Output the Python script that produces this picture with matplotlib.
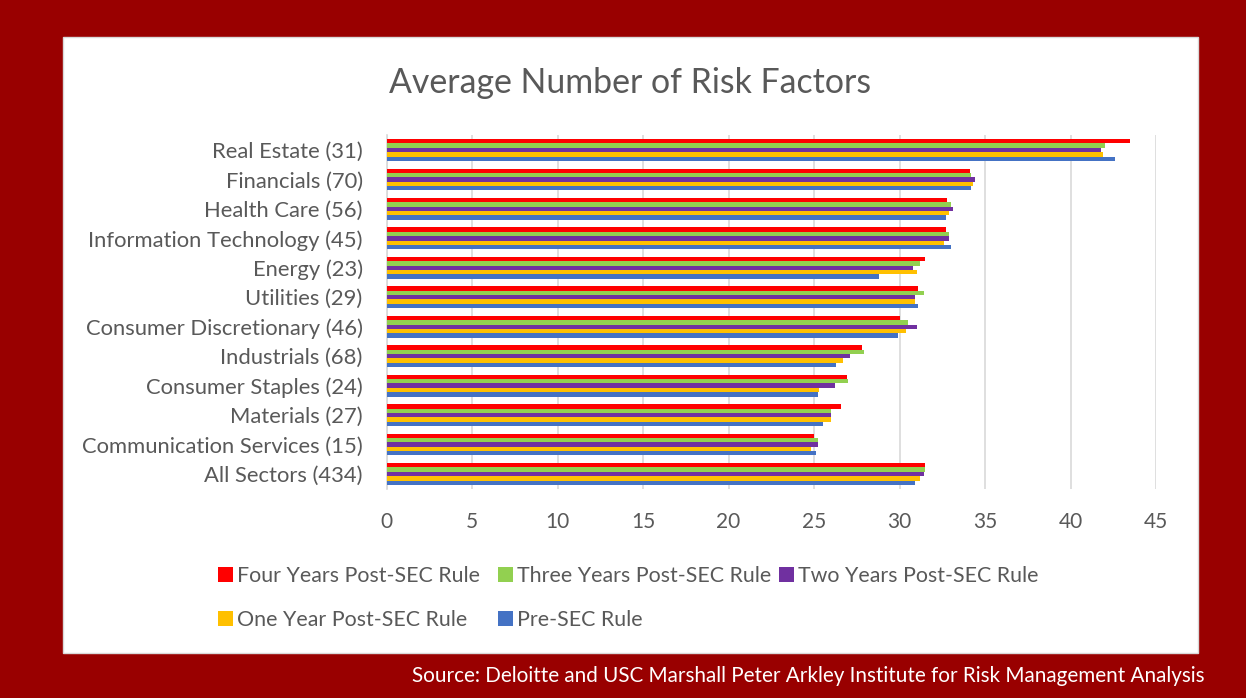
import matplotlib
matplotlib.use("Agg")
import matplotlib.pyplot as plt
from matplotlib.patches import Rectangle, Patch
import numpy as np

plt.rcParams['font.family'] = ['Lato', 'DejaVu Sans']

categories = ["Real Estate (31)", "Financials (70)", "Health Care (56)",
              "Information Technology (45)", "Energy (23)", "Utilities (29)",
              "Consumer Discretionary (46)", "Industrials (68)",
              "Consumer Staples (24)", "Materials (27)",
              "Communication Services (15)", "All Sectors (434)"]

series_names = ["Four Years Post-SEC Rule", "Three Years Post-SEC Rule",
                "Two Years Post-SEC Rule", "One Year Post-SEC Rule", "Pre-SEC Rule"]

four_years = [43.5, 34.1, 32.8, 32.7, 31.5, 31.1, 30.0, 27.8, 26.9, 26.6, 25.0, 31.5]
three_years = [42.0, 34.2, 33.0, 32.9, 31.2, 31.4, 30.5, 27.9, 27.0, 26.0, 25.2, 31.5]
two_years = [41.8, 34.4, 33.1, 32.9, 30.8, 30.9, 31.0, 27.1, 26.2, 26.0, 25.2, 31.4]
one_year = [41.9, 34.3, 32.9, 32.6, 31.0, 30.9, 30.4, 26.7, 25.3, 26.0, 24.8, 31.2]
pre_sec = [42.6, 34.2, 32.7, 33.0, 28.8, 31.1, 29.9, 26.3, 25.2, 25.5, 25.1, 30.9]

x_ticks = [0, 5, 10, 15, 20, 25, 30, 35, 40, 45]

colors = ["#FF0000", "#92D050", "#7030A0", "#FFC000", "#4472C4"]
series = [four_years, three_years, two_years, one_year, pre_sec]

W, H = 1246, 698
fig = plt.figure(figsize=(W / 100, H / 100), dpi=100)
fig.patch.set_facecolor("#990000")

# white panel
fig.patches.append(Rectangle((63 / W, 1 - 653 / H), (1198 - 63) / W, (653 - 37) / H,
                             transform=fig.transFigure, facecolor="white",
                             edgecolor="#d9d9d9", linewidth=1, zorder=0))

ax = fig.add_axes([386.7 / W, 1 - 488.7 / H, (1156 - 386.7) / W, (488.7 - 135.3) / H])
ax.set_zorder(2)
ax.set_facecolor("none")

n = len(categories)
y = np.arange(n)
group_w = 0.74
bar_h = group_w / len(series)
for i, (vals, c, name) in enumerate(zip(series, colors, series_names)):
    offs = -group_w / 2 + bar_h * (i + 0.5)
    ax.barh(y + offs, vals, height=bar_h, color=c, label=name, zorder=3)

ax.set_ylim(n - 0.5, -0.5)
ax.set_xlim(0, 45)
ax.set_xticks(x_ticks)
ax.set_yticks(y)
ax.set_yticklabels(categories)
ax.tick_params(axis='both', length=0, colors="#595959")
ax.tick_params(axis='x', pad=17, labelsize=15)
ax.tick_params(axis='y', pad=17.3, labelsize=15.8)
ax.grid(axis='x', color="#d9d9d9", linewidth=1.2, zorder=0)
for s in ["top", "right", "bottom"]:
    ax.spines[s].set_visible(False)
ax.spines["left"].set_color("#d9d9d9")
ax.spines["left"].set_linewidth(1.2)

fig.text(630 / W, 1 - 83 / H, "Average Number of Risk Factors", ha="center", va="center",
         fontsize=24.4, color="#595959")

# legend: three aligned columns
handles = [Patch(facecolor=c) for c in colors]
leg_cols = [([0, 3], 218), ([1, 4], 498), ([2], 779)]
for idx, xpos in leg_cols:
    yc = 598 if len(idx) == 2 else 576
    leg = fig.legend([handles[i] for i in idx], [series_names[i] for i in idx],
                     loc="center left", bbox_to_anchor=(xpos / W, 1 - yc / H),
                     frameon=False, fontsize=15.4, handlelength=0.68, handleheight=0.68,
                     handletextpad=0.22, labelspacing=1.09, borderpad=0, borderaxespad=0)
    for t in leg.get_texts():
        t.set_color("#595959")

fig.text(1204 / W, 1 - 676 / H,
         "Source: Deloitte and USC Marshall Peter Arkley Institute for Risk Management Analysis",
         ha="right", va="center", fontsize=14.9, color="white")

fig.savefig("out.png", dpi=100, facecolor=fig.get_facecolor())
